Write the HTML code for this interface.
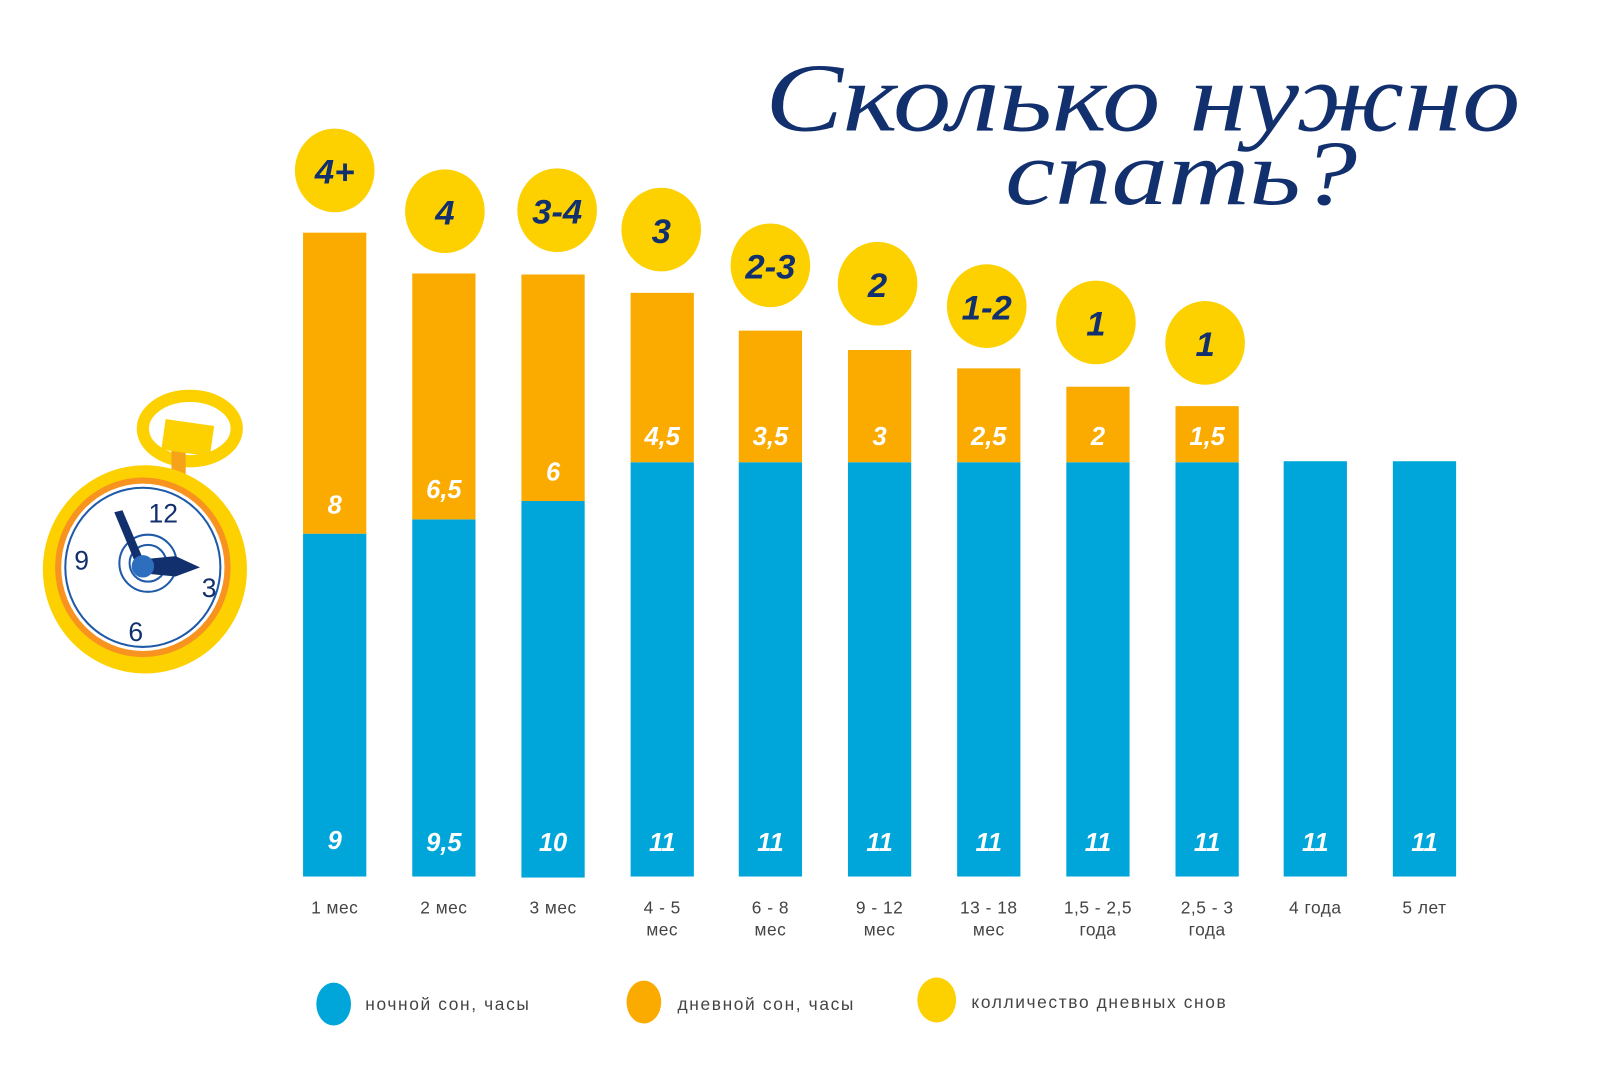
<!DOCTYPE html>
<html><head><meta charset="utf-8"><style>
html,body{margin:0;padding:0;background:#fff}
svg{display:block}
.ax{font-family:"Liberation Sans",sans-serif;font-size:17px;fill:#444;text-anchor:middle;letter-spacing:0.5px}
.lg{font-family:"Liberation Sans",sans-serif;font-size:17px;fill:#444;letter-spacing:1.6px}
.v{font-family:"Liberation Sans",sans-serif;font-size:25px;font-style:italic;fill:#fff;text-anchor:middle;font-weight:bold}
.c{font-family:"Liberation Sans",sans-serif;font-size:34px;font-style:italic;fill:#12306e;text-anchor:middle;font-weight:bold}
.t{font-family:"Liberation Serif",serif;font-style:italic;fill:#12306e}
</style></head><body>
<svg width="1600" height="1067" viewBox="0 0 1600 1067" xmlns="http://www.w3.org/2000/svg">
<g transform="scale(1.0204)">
<text class="t" x="750" y="128" font-size="96" textLength="740" lengthAdjust="spacingAndGlyphs">Сколько нужно</text>
<text class="t" x="985" y="200" font-size="90" textLength="345" lengthAdjust="spacingAndGlyphs">спать?</text>
<g fill="#00a6da">
<rect x="297" y="523" width="62" height="336"/>
<rect x="404" y="509" width="62" height="350"/>
<rect x="511" y="491" width="62" height="369"/>
<rect x="618" y="453" width="62" height="406"/>
<rect x="724" y="453" width="62" height="406"/>
<rect x="831" y="453" width="62" height="406"/>
<rect x="938" y="453" width="62" height="406"/>
<rect x="1045" y="453" width="62" height="406"/>
<rect x="1152" y="453" width="62" height="406"/>
<rect x="1258" y="452" width="62" height="407"/>
<rect x="1365" y="452" width="62" height="407"/>
</g>
<g fill="#fbab00">
<rect x="297" y="228" width="62" height="295"/>
<rect x="404" y="268" width="62" height="241"/>
<rect x="511" y="269" width="62" height="222"/>
<rect x="618" y="287" width="62" height="166"/>
<rect x="724" y="324" width="62" height="129"/>
<rect x="831" y="343" width="62" height="110"/>
<rect x="938" y="361" width="62" height="92"/>
<rect x="1045" y="379" width="62" height="74"/>
<rect x="1152" y="398" width="62" height="55"/>
</g>
<g fill="#fdd000">
<ellipse cx="328" cy="167" rx="39" ry="41"/>
<ellipse cx="436" cy="207" rx="39" ry="41"/>
<ellipse cx="546" cy="206" rx="39" ry="41"/>
<ellipse cx="648" cy="225" rx="39" ry="41"/>
<ellipse cx="755" cy="260" rx="39" ry="41"/>
<ellipse cx="860" cy="278" rx="39" ry="41"/>
<ellipse cx="967" cy="300" rx="39" ry="41"/>
<ellipse cx="1074" cy="316" rx="39" ry="41"/>
<ellipse cx="1181" cy="336" rx="39" ry="41"/>
</g>
<g class="c">
<text x="328" y="180">4+</text><text x="436" y="220">4</text><text x="546" y="219">3-4</text>
<text x="648" y="238">3</text><text x="755" y="273">2-3</text><text x="860" y="291">2</text>
<text x="967" y="313">1-2</text><text x="1074" y="329">1</text><text x="1181" y="349">1</text>
</g>
<g class="v">
<text x="328" y="503">8</text><text x="435" y="488">6,5</text><text x="542" y="471">6</text>
<text x="649" y="436">4,5</text><text x="755" y="436">3,5</text><text x="862" y="436">3</text>
<text x="969" y="436">2,5</text><text x="1076" y="436">2</text><text x="1183" y="436">1,5</text>
<text x="328" y="832">9</text><text x="435" y="834">9,5</text><text x="542" y="834">10</text>
<text x="649" y="834">11</text><text x="755" y="834">11</text><text x="862" y="834">11</text>
<text x="969" y="834">11</text><text x="1076" y="834">11</text><text x="1183" y="834">11</text>
<text x="1289" y="834">11</text><text x="1396" y="834">11</text>
</g>
<g class="ax">
<text x="328" y="895">1 мес</text><text x="435" y="895">2 мес</text><text x="542" y="895">3 мес</text>
<text x="649" y="895">4 - 5</text><text x="649" y="917">мес</text>
<text x="755" y="895">6 - 8</text><text x="755" y="917">мес</text>
<text x="862" y="895">9 - 12</text><text x="862" y="917">мес</text>
<text x="969" y="895">13 - 18</text><text x="969" y="917">мес</text>
<text x="1076" y="895">1,5 - 2,5</text><text x="1076" y="917">года</text>
<text x="1183" y="895">2,5 - 3</text><text x="1183" y="917">года</text>
<text x="1289" y="895">4 года</text><text x="1396" y="895">5 лет</text>
</g>
<ellipse cx="327" cy="984" rx="17" ry="21" fill="#00a6da"/>
<text class="lg" x="358" y="990">ночной сон, часы</text>
<ellipse cx="631" cy="982" rx="17" ry="21" fill="#fbab00"/>
<text class="lg" x="664" y="990">дневной сон, часы</text>
<ellipse cx="918" cy="980" rx="19" ry="22" fill="#fdd000"/>
<text class="lg" x="952" y="988">колличество дневных снов</text>
<!-- clock -->
<ellipse cx="186" cy="420" rx="46" ry="32" fill="none" stroke="#fdd000" stroke-width="12"/>
<rect x="168" y="440" width="14" height="30" fill="#f7a31a"/>
<rect x="160" y="414" width="48" height="30" fill="#fdd000" transform="rotate(8 184 429)"/>
<ellipse cx="142" cy="558" rx="100" ry="102" fill="#fdd000"/>
<ellipse cx="140" cy="556" rx="86" ry="88" fill="#f7931e"/>
<ellipse cx="140" cy="556" rx="80" ry="82" fill="#fff"/>
<ellipse cx="140" cy="556" rx="76" ry="78" fill="none" stroke="#1e5aa8" stroke-width="2"/>
<circle cx="145" cy="552" r="28" fill="none" stroke="#1e5aa8" stroke-width="2"/>
<circle cx="145" cy="552" r="18" fill="none" stroke="#1e5aa8" stroke-width="2"/>
<text x="160" y="512" font-family="Liberation Sans" font-size="26" fill="#12306e" text-anchor="middle">12</text>
<text x="205" y="585" font-family="Liberation Sans" font-size="26" fill="#12306e" text-anchor="middle">3</text>
<text x="133" y="628" font-family="Liberation Sans" font-size="26" fill="#12306e" text-anchor="middle">6</text>
<text x="80" y="558" font-family="Liberation Sans" font-size="26" fill="#12306e" text-anchor="middle">9</text>
<polygon points="112,502 120,500 142,552 134,555" fill="#12306e"/>
<polygon points="142,548 172,545 196,556 172,565 142,562" fill="#12306e"/>
<circle cx="140" cy="555" r="11" fill="#2e6ebf"/>
</g>
</svg>
</body></html>
